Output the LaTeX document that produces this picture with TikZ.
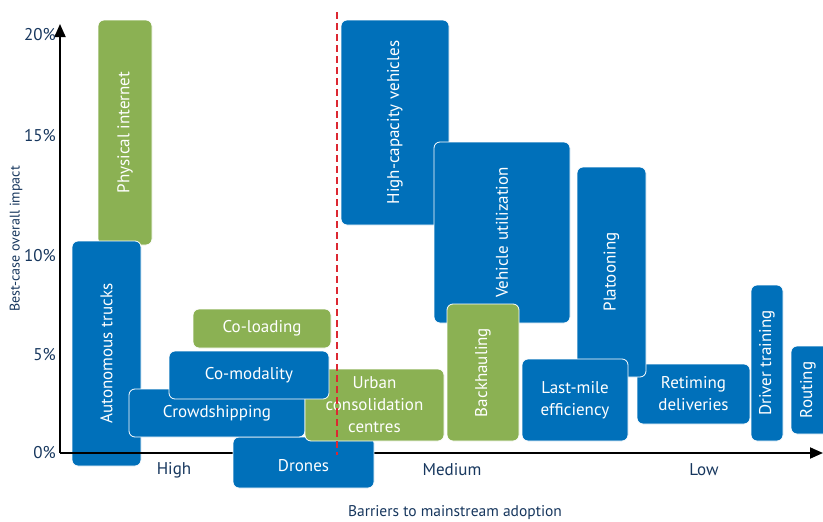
\documentclass[tikz,border=0pt]{standalone}
\usepackage{fontspec}
\setmainfont{PT Sans}
\usetikzlibrary{arrows.meta}
\definecolor{cblue}{RGB}{0,112,186}
\definecolor{cgreen}{RGB}{139,177,83}
\definecolor{navy}{RGB}{23,55,94}
\definecolor{cred}{RGB}{220,40,50}
\tikzset{
  box/.style={rectangle, rounded corners=6pt, draw=white, line width=0.8pt, inner sep=0pt, text=white, align=center, font=\fontsize{17}{22}\selectfont},
  bbox/.style={box, fill=cblue},
  gbox/.style={box, fill=cgreen},
  tick/.style={anchor=east, text=navy, font=\fontsize{17}{20}\selectfont, inner sep=0pt},
  cat/.style={text=navy, font=\fontsize{17}{20}\selectfont, inner sep=0pt},
  axlabel/.style={text=navy, inner sep=0pt},
  axis/.style={line width=1.8pt, -{Triangle[length=13pt,width=11pt]}}
}
\begin{document}
\begin{tikzpicture}[x=1pt,y=-1pt]
\useasboundingbox[fill=white] (0,0) rectangle (823,522);
\begin{scope}
\clip (0,0) rectangle (823,522);
% boxes below the axes
\node[gbox, rotate=90, minimum width=225pt, minimum height=54pt] (pi) at (125,132.5) {Physical internet};
\node[bbox, rotate=90, minimum width=225pt, minimum height=69pt] (at) at (106.5,353.5) {Autonomous trucks};
% axes
\coordinate (o) at (60,453);
\coordinate (ytop) at (60,24);
\coordinate (xend) at (823,453);
\draw[axis] (o) -- (ytop);
\draw[axis] (o) -- (xend);
% boxes
\node[gbox, minimum width=138pt, minimum height=39pt] (cl) at (262,328.5) {Co-loading};
\node[bbox, minimum width=141pt, minimum height=51pt] (dr) at (303.5,462.5) {};
\node[text=white, font=\fontsize{17}{22}\selectfont, inner sep=0pt] (drt) at (303.5,466) {Drones};
\node[bbox, minimum width=176pt, minimum height=48pt] (cs) at (217,413) {Crowdshipping};
\node[gbox, minimum width=139pt, minimum height=72pt] (uc) at (374.5,405) {Urban\\consolidation\\centres};
\node[bbox, minimum width=160pt, minimum height=48pt] (cm) at (249,375) {Co-modality};
\node[bbox, rotate=90, minimum width=205pt, minimum height=108pt] (hcv) at (395,122.5) {High-capacity vehicles};
\node[bbox, rotate=90, minimum width=181pt, minimum height=136pt] (vu) at (502,232.5) {Vehicle utilization};
\node[gbox, rotate=90, minimum width=137pt, minimum height=72pt] (bh) at (483,372.5) {Backhauling};
\node[bbox, minimum width=113pt, minimum height=60pt] (rd) at (693.5,394) {Retiming\\deliveries};
\node[bbox, rotate=90, minimum width=210pt, minimum height=69pt] (pl) at (611.5,272) {Platooning};
\node[bbox, minimum width=106pt, minimum height=82pt] (lm) at (575,400) {Last-mile\\efficiency};
\node[bbox, rotate=90, minimum width=156pt, minimum height=32pt] (dt) at (767,363) {Driver training};
\node[bbox, rotate=90, minimum width=88pt, minimum height=39pt] (rt) at (810.5,390) {};
\node[text=white, rotate=90, font=\fontsize{17}{22}\selectfont, inner sep=0pt] (rtt) at (808,390) {Routing};
% red dashed divider
\coordinate (r1) at (337,12);
\coordinate (r2) at (337,455);
\draw[cred, line width=2.4pt, dash pattern=on 7pt off 4pt] (r1) -- (r2);
\end{scope}
% tick labels
\node[tick] (t20) at (56,35) {20\%};
\node[tick] (t15) at (56,136) {15\%};
\node[tick] (t10) at (56,256) {10\%};
\node[tick] (t5) at (56,355) {5\%};
\node[tick] (t0) at (56,453) {0\%};
% category labels
\node[cat] (high) at (174,470) {High};
\node[cat] (med) at (452,470) {Medium};
\node[cat] (low) at (704,470) {Low};
% axis labels
\node[axlabel, rotate=90, font=\fontsize{14}{17}\selectfont] (ylab) at (16,239) {Best-case overall impact};
\node[axlabel, font=\fontsize{15.5}{18}\selectfont] (xlab) at (455,513) {Barriers to mainstream adoption};
\end{tikzpicture}
\end{document}
